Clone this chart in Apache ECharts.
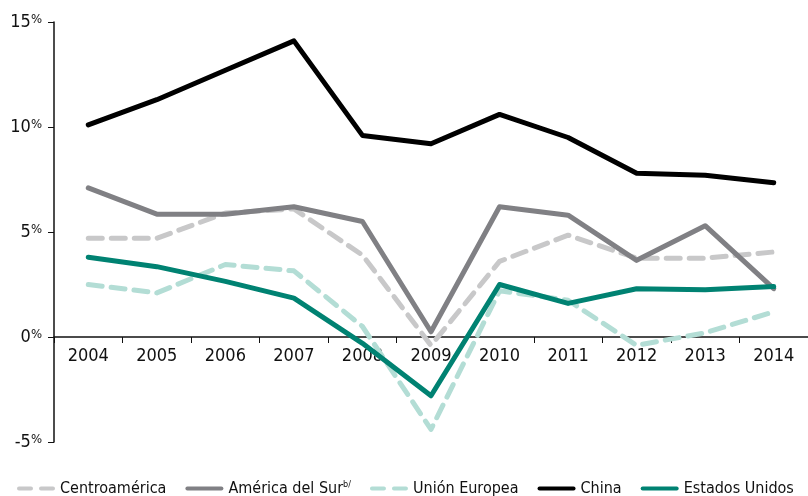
<!DOCTYPE html>
<html>
<head>
<meta charset="utf-8">
<script src="https://cdn.jsdelivr.net/npm/echarts@6/dist/echarts.min.js"></script>
<style>
  html, body { margin: 0; padding: 0; background: #fff; }
  #chart { width: 808px; height: 496px; }
</style>
</head>
<body>
<div id="chart"></div>
<script>
// datos
var years = ['2004', '2005', '2006', '2007', '2008', '2009', '2010', '2011', '2012', '2013', '2014'];
var centroamerica = [4.7, 4.7, 5.9, 6.1, 3.9, -0.4, 3.6, 4.85, 3.75, 3.75, 4.05];
var americaSur = [7.1, 5.85, 5.85, 6.2, 5.5, 0.25, 6.2, 5.8, 3.65, 5.3, 2.3];
var unionEuropea = [2.5, 2.1, 3.45, 3.15, 0.5, -4.4, 2.2, 1.75, -0.4, 0.2, 1.2];
var china = [10.1, 11.3, 12.7, 14.1, 9.6, 9.2, 10.6, 9.5, 7.8, 7.7, 7.35];
var estadosUnidos = [3.8, 3.35, 2.65, 1.85, -0.3, -2.8, 2.5, 1.6, 2.3, 2.25, 2.4];
var yTicks = [-5, 0, 5, 10, 15];

var FONT = '"DejaVu Sans Condensed", "Liberation Sans Narrow", "Noto Sans", sans-serif';
var DASH_ICON = 'path://M2,0h12a2,2 0 0 1 0,4h-12a2,2 0 0 1 0,-4z M24,0h12a2,2 0 0 1 0,4h-12a2,2 0 0 1 0,-4z';
var BAR_ICON = 'path://M2,0h34a2,2 0 0 1 0,4h-34a2,2 0 0 1 0,-4z';

var chart = echarts.init(document.getElementById('chart'));

function serie(name, data, color, dashed) {
  return {
    name: name,
    type: 'line',
    data: data,
    symbol: 'none',
    z: dashed ? 2 : 3,
    lineStyle: {
      color: color,
      width: 5,
      type: dashed ? [14, 9] : 'solid',
      cap: 'round',
      join: 'round'
    },
    itemStyle: { color: color }
  };
}

var option = {
  animation: false,
  textStyle: { fontFamily: FONT },
  grid: { left: 54, top: 22, width: 758, bottom: 54 },
  legend: {
    top: 475,
    left: 12,
    itemWidth: 38,
    itemHeight: 5,
    itemGap: 19,
    textStyle: {
      fontFamily: FONT,
      fontSize: 16,
      color: '#111',
      rich: {
        sup: { fontSize: 9, verticalAlign: 'top', padding: [0, 0, 8, 0], color: '#111', fontFamily: FONT }
      }
    },
    formatter: function (n) {
      return n === 'América del Sur' ? n + '{sup|b/}' : n;
    },
    data: [
      { name: 'Centroamérica', icon: DASH_ICON },
      { name: 'América del Sur', icon: BAR_ICON },
      { name: 'Unión Europea', icon: DASH_ICON },
      { name: 'China', icon: BAR_ICON },
      { name: 'Estados Unidos', icon: BAR_ICON }
    ]
  },
  xAxis: {
    type: 'category',
    data: years,
    boundaryGap: true,
    offset: -105, // eje de categorías sobre la línea del 0%
    axisLine: { onZero: false, lineStyle: { color: '#111', width: 1.5 } },
    axisTick: { show: true, length: 6, inside: false, lineStyle: { color: '#111' } },
    axisLabel: { color: '#111', fontSize: 18, margin: 10, fontFamily: FONT }
  },
  yAxis: {
    type: 'value',
    min: yTicks[0],
    max: yTicks[yTicks.length - 1],
    interval: 5,
    splitLine: { show: false },
    axisLine: { show: true, lineStyle: { color: '#111', width: 1.5 } },
    axisTick: { show: true, length: 6, lineStyle: { color: '#111' } },
    axisLabel: {
      color: '#111',
      fontSize: 18,
      margin: 12,
      fontFamily: FONT,
      formatter: function (v) { return v + '{p|%}'; },
      rich: { p: { fontSize: 13, color: '#111', fontFamily: FONT, verticalAlign: 'top' } }
    }
  },
  series: [
    serie('Centroamérica', centroamerica, '#c8c8c9', true),
    serie('América del Sur', americaSur, '#808084', false),
    serie('Unión Europea', unionEuropea, '#b3ddd5', true),
    serie('China', china, '#000000', false),
    serie('Estados Unidos', estadosUnidos, '#008272', false)
  ]
};

chart.setOption(option);
</script>
</body>
</html>
